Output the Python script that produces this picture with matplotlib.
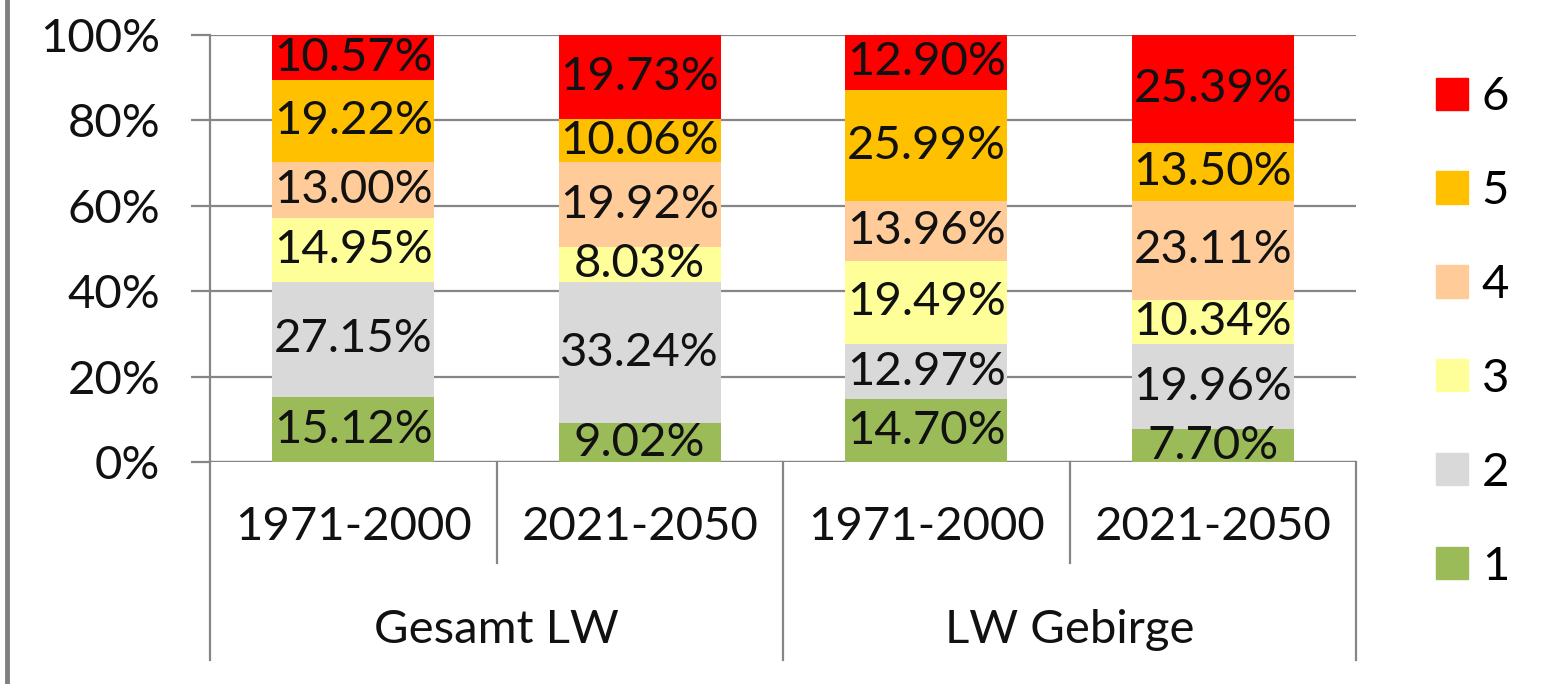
import matplotlib
matplotlib.use("Agg")
import matplotlib.pyplot as plt
from matplotlib.lines import Line2D
import numpy as np

plt.rcParams['font.family'] = ['Lato', 'DejaVu Sans']

periods = ['1971-2000', '2021-2050', '1971-2000', '2021-2050']
groups = ['Gesamt LW', 'LW Gebirge']
classes = ['1', '2', '3', '4', '5', '6']
colors = ['#9BBB59', '#D9D9D9', '#FFFF99', '#FFCC99', '#FFC000', '#FF0000']

# share of each class (%) per bar, class 1 at the bottom
class1 = [15.12, 9.02, 14.70, 7.70]
class2 = [27.15, 33.24, 12.97, 19.96]
class3 = [14.95, 8.03, 19.49, 10.34]
class4 = [13.00, 19.92, 13.96, 23.11]
class5 = [19.22, 10.06, 25.99, 13.50]
class6 = [10.57, 19.73, 12.90, 25.39]
series = [class1, class2, class3, class4, class5, class6]

fs = 34
grey = '#868686'

fig = plt.figure(figsize=(15.42, 6.84), dpi=100)
ax = fig.add_axes([210/1542, 1-462/684, (1356-210)/1542, (462-35)/684])

x = np.arange(len(periods))
bottom = np.zeros(len(periods))
for vals, col, lab in zip(series, colors, classes):
    ax.bar(x, vals, 0.565, bottom=bottom, color=col, label=lab, zorder=2)
    for xi, v, b0 in zip(x, vals, bottom):
        ax.text(xi, b0 + v/2, f'{v:.2f}%', ha='center', va='center',
                fontsize=fs, color='#111111', zorder=3)
    bottom += np.array(vals)

ax.set_xlim(-0.5, len(periods) - 0.5)
ax.set_ylim(0, 100)
ax.set_yticks(np.arange(0, 101, 20))
ax.set_yticklabels([f'{t}%' for t in range(0, 101, 20)], fontsize=fs, color='#111111')
ax.yaxis.grid(True, color=grey, lw=1.6, zorder=0)
ax.tick_params(axis='y', length=13.7, width=1.6, color=grey, pad=22)
ax.set_xticks([])
for s in ['top', 'right', 'bottom']:
    ax.spines[s].set_visible(False)
ax.spines['left'].set_color(grey)
ax.spines['left'].set_linewidth(1.6)
ax.axhline(0, color=grey, lw=1.6, zorder=1)

# two-level category axis
tr = ax.get_xaxis_transform()
for xi, lab in zip(x, periods):
    ax.text(xi, -0.152, lab, transform=tr, ha='center', va='center',
            fontsize=fs, color='#111111')
for gi, g in enumerate(groups):
    ax.text(2*gi + 0.5, -0.393, g, transform=tr, ha='center', va='center',
            fontsize=fs, color='#111111')
for xs in [0.5, 2.5]:
    ax.plot([xs, xs], [0, -0.2365], transform=tr, color=grey, lw=1.6, clip_on=False)
for xs in [-0.5, 1.5, 3.5]:
    ax.plot([xs, xs], [0, -0.4637], transform=tr, color=grey, lw=1.6, clip_on=False)

handles = [plt.Rectangle((0, 0), 1, 1, color=c) for c in colors][::-1]
fig.legend(handles, classes[::-1], loc='center left',
           bbox_to_anchor=(1436/1542, 1-332/684), frameon=False,
           fontsize=fs, handlelength=0.67, handleheight=0.67,
           handletextpad=0.3, labelspacing=1.1, borderpad=0, borderaxespad=0)

fig.add_artist(Line2D([7/1542, 7/1542], [0, 1], color='#7f7f7f', lw=3.5))

fig.savefig('out.png', dpi=100)
